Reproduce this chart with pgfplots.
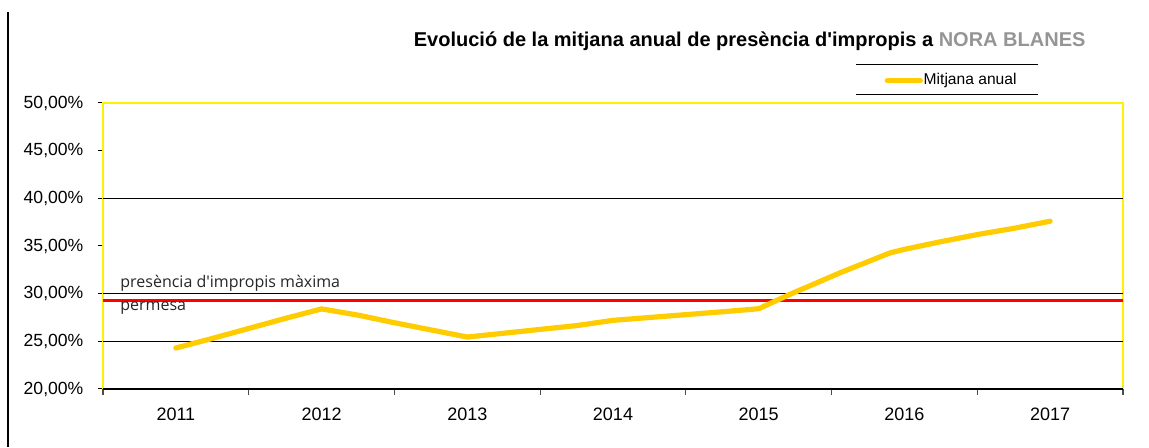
\documentclass[border=0pt]{standalone}
\usepackage{pgfplots}
\pgfplotsset{compat=1.18}
\usepackage{fontspec}
\setmainfont{Liberation Sans}
\newfontfamily\annfont{Open Sans}
\definecolor{gold}{HTML}{FFCC00}
\definecolor{nora}{HTML}{959595}

\pgfplotstableread{
x y
0.00 24.30
0.25 25.30
0.50 26.35
0.75 27.40
1.00 28.40
1.25 27.75
1.50 26.95
1.75 26.20
2.00 25.45
2.25 25.85
2.50 26.25
2.75 26.65
3.00 27.20
3.25 27.50
3.50 27.80
3.75 28.10
4.00 28.42
4.21 29.90
4.56 32.20
4.90 34.27
5.00 34.65
5.25 35.45
5.50 36.20
5.75 36.85
6.00 37.60
}\mitjana

\begin{document}
\begin{tikzpicture}
\path (-51.5pt,-29pt) rectangle (523pt,194.5pt);
\draw[black, line width=0.6pt] (-47.5pt,188.5pt) -- (-47.5pt,-29pt);
\begin{axis}[
  at={(0pt,0pt)}, anchor=south west, scale only axis,
  width=510pt, height=143pt,
  xmin=-0.5, xmax=6.5, ymin=20, ymax=50,
  clip=false,
  axis line style={draw=yellow, line width=0.9pt},
  tick align=outside,
  xtick pos=bottom, ytick pos=left,
  major tick length=2.6pt,
  ytick={20,25,30,35,40,45,50},
  yticklabels={{20,00\%},{25,00\%},{30,00\%},{35,00\%},{40,00\%},{45,00\%},{50,00\%}},
  y tick style={draw=black, line width=0.5pt},
  yticklabel style={font=\fontsize{8.8}{10}\selectfont, inner sep=0pt, xshift=-7pt},
  xtick={0,1,2,3,4,5,6},
  xticklabels={2011,2012,2013,2014,2015,2016,2017},
  x tick style={draw=none},
  xticklabel style={font=\fontsize{9}{10}\selectfont, inner sep=0pt, yshift=-6.5pt},
  extra x ticks={-0.5,0.5,1.5,2.5,3.5,4.5,5.5,6.5},
  extra x tick labels={},
  extra x tick style={x tick style={draw=black!70, line width=0.6pt}, major tick length=2.8pt},
  extra y ticks={25,30,40},
  extra y tick labels={},
  extra y tick style={grid=major, major grid style={black, line width=0.5pt}, y tick style={draw=none}},
  legend style={at={(rel axis cs:0.766,1.078)}, anchor=west, draw=none, fill=none,
    font=\fontsize{7.8}{9}\selectfont, inner sep=0pt, nodes={inner sep=0.4pt}},
  legend image code/.code={\draw[gold, line width=2.5pt, line cap=round] (0.6pt,0pt) -- (17.2pt,0pt);},
]
\draw[black, line width=0.6pt] (rel axis cs:0,0) -- (rel axis cs:1,0);
\addplot[red, line width=1.3pt, forget plot] coordinates {(-0.5,29.3) (6.5,29.3)};
\addplot[gold, line width=2.6pt, line join=round, line cap=round] table[x=x, y=y] {\mitjana};
\addlegendentry{Mitjana anual}
\draw[black, line width=0.5pt] (rel axis cs:0.738,1.1352) -- (rel axis cs:0.9167,1.1352);
\draw[black, line width=0.5pt] (rel axis cs:0.738,1.0314) -- (rel axis cs:0.9167,1.0314);
\node[anchor=base, inner sep=0pt, font=\bfseries\fontsize{10}{12}\selectfont]
  at (rel axis cs:0.634,1.1967) {Evolució de la mitjana anual de presència d\textquotesingle impropis a \textcolor{nora}{NORA BLANES}};
\node[anchor=base west, inner sep=0pt, font=\annfont\fontsize{8}{9}\selectfont, text=black!85]
  at (rel axis cs:0.0167,0.3556) {presència d'impropis màxima};
\node[anchor=base west, inner sep=0pt, font=\annfont\fontsize{8}{9}\selectfont, text=black!85]
  at (rel axis cs:0.0167,0.2738) {permesa};
\end{axis}
\end{tikzpicture}
\end{document}
